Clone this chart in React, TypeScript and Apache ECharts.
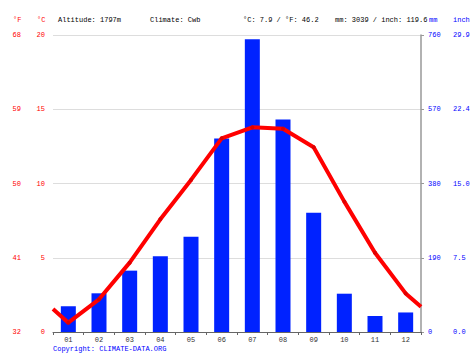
import React, { useEffect, useRef } from "react";
import * as echarts from "echarts";

const months = ["01", "02", "03", "04", "05", "06", "07", "08", "09", "10", "11", "12"];
const precipMm = [66, 99, 157, 194, 244, 495, 749, 544, 305, 98, 41, 50];
const tempC = [0.63, 2.2, 4.67, 7.59, 10.24, 13.04, 13.78, 13.69, 12.44, 8.78, 5.34, 2.6];
const edgeTempStart = 1.55;
const edgeTempEnd = 1.7;
const headerTexts = [
  { text: "°F", x: 13, color: "#ff0000" },
  { text: "°C", x: 37, color: "#ff0000" },
  { text: "Altitude: 1797m", x: 58, color: "#000000" },
  { text: "Climate: Cwb", x: 150, color: "#000000" },
  { text: "°C: 7.9 / °F: 46.2", x: 243, color: "#000000" },
  { text: "mm: 3039 / inch: 119.6", x: 335, color: "#000000" },
  { text: "mm", x: 429, color: "#0000ff" },
  { text: "inch", x: 453, color: "#0000ff" },
];

const FONT = "Liberation Mono";

export default function App() {
  const ref = useRef<HTMLDivElement>(null);
  useEffect(() => {
    if (!ref.current) return;
    const chart = echarts.init(ref.current, undefined, { renderer: "svg" });
    const lineData: any[] = [{ value: [0.5, edgeTempStart], symbol: "none" }];
    tempC.forEach((t, i) => lineData.push([i + 1, t]));
    lineData.push({ value: [12.5, edgeTempEnd], symbol: "none" });

    const graphics: any[] = headerTexts.map((h) => ({
      type: "text",
      x: h.x,
      y: 20,
      style: {
        text: h.text,
        fill: h.color,
        font: `7px "${FONT}"`,
        verticalAlign: "middle",
      },
    }));
    graphics.push({
      type: "text",
      x: 53,
      y: 349,
      style: {
        text: "Copyright: CLIMATE-DATA.ORG",
        fill: "#0000ff",
        font: `7px "${FONT}"`,
        verticalAlign: "middle",
      },
    });

    chart.setOption({
      animation: false,
      backgroundColor: "#ffffff",
      grid: { left: 53, right: 53, top: 35, bottom: 23, containLabel: false },
      graphic: graphics,
      xAxis: [
        {
          type: "category",
          data: months,
          axisLine: { show: true, lineStyle: { color: "#666", width: 1 } },
          axisTick: { show: true, length: 3, lineStyle: { color: "#666" } },
          axisLabel: { color: "#333", fontFamily: FONT, fontSize: 7, margin: 4 },
          splitLine: { show: false },
        },
        {
          type: "value",
          min: 0.5,
          max: 12.5,
          show: false,
        },
      ],
      yAxis: [
        {
          type: "value",
          min: 0,
          max: 20,
          interval: 5,
          position: "left",
          axisLine: { show: false },
          axisTick: { show: false },
          axisLabel: { color: "#ff0000", fontFamily: FONT, fontSize: 7, margin: 8 },
          splitLine: { show: true, lineStyle: { color: "#dddddd", width: 1 } },
        },
        {
          type: "value",
          min: 0,
          max: 20,
          interval: 5,
          position: "left",
          offset: 24,
          axisLine: { show: false },
          axisTick: { show: false },
          axisLabel: {
            color: "#ff0000",
            fontFamily: FONT,
            fontSize: 7,
            margin: 8,
            formatter: (v: number) => String(Math.round((v * 9) / 5 + 32)),
          },
          splitLine: { show: false },
        },
        {
          type: "value",
          min: 0,
          max: 760,
          interval: 190,
          position: "right",
          axisLine: { show: true, lineStyle: { color: "#999", width: 1.5 } },
          axisTick: { show: true, length: 3, lineStyle: { color: "#999" } },
          axisLabel: { color: "#0000ff", fontFamily: FONT, fontSize: 7, margin: 7 },
          splitLine: { show: false },
        },
        {
          type: "value",
          min: 0,
          max: 760,
          interval: 190,
          position: "right",
          offset: 25,
          axisLine: { show: false },
          axisTick: { show: false },
          axisLabel: {
            color: "#0000ff",
            fontFamily: FONT,
            fontSize: 7,
            margin: 7,
            formatter: (v: number) => (v / 25.4).toFixed(1),
          },
          splitLine: { show: false },
        },
      ],
      series: [
        {
          type: "bar",
          xAxisIndex: 0,
          yAxisIndex: 2,
          data: precipMm,
          barWidth: 15,
          itemStyle: { color: "#0022ff" },
        },
        {
          type: "line",
          xAxisIndex: 1,
          yAxisIndex: 0,
          data: lineData,
          symbol: "circle",
          symbolSize: 4,
          lineStyle: { color: "#ff0000", width: 4 },
          itemStyle: { color: "#dd0000" },
          z: 5,
        },
      ],
    });
    return () => chart.dispose();
  }, []);
  return <div ref={ref} style={{ width: 474, height: 355, position: "absolute", left: 0, top: 0 }} />;
}
